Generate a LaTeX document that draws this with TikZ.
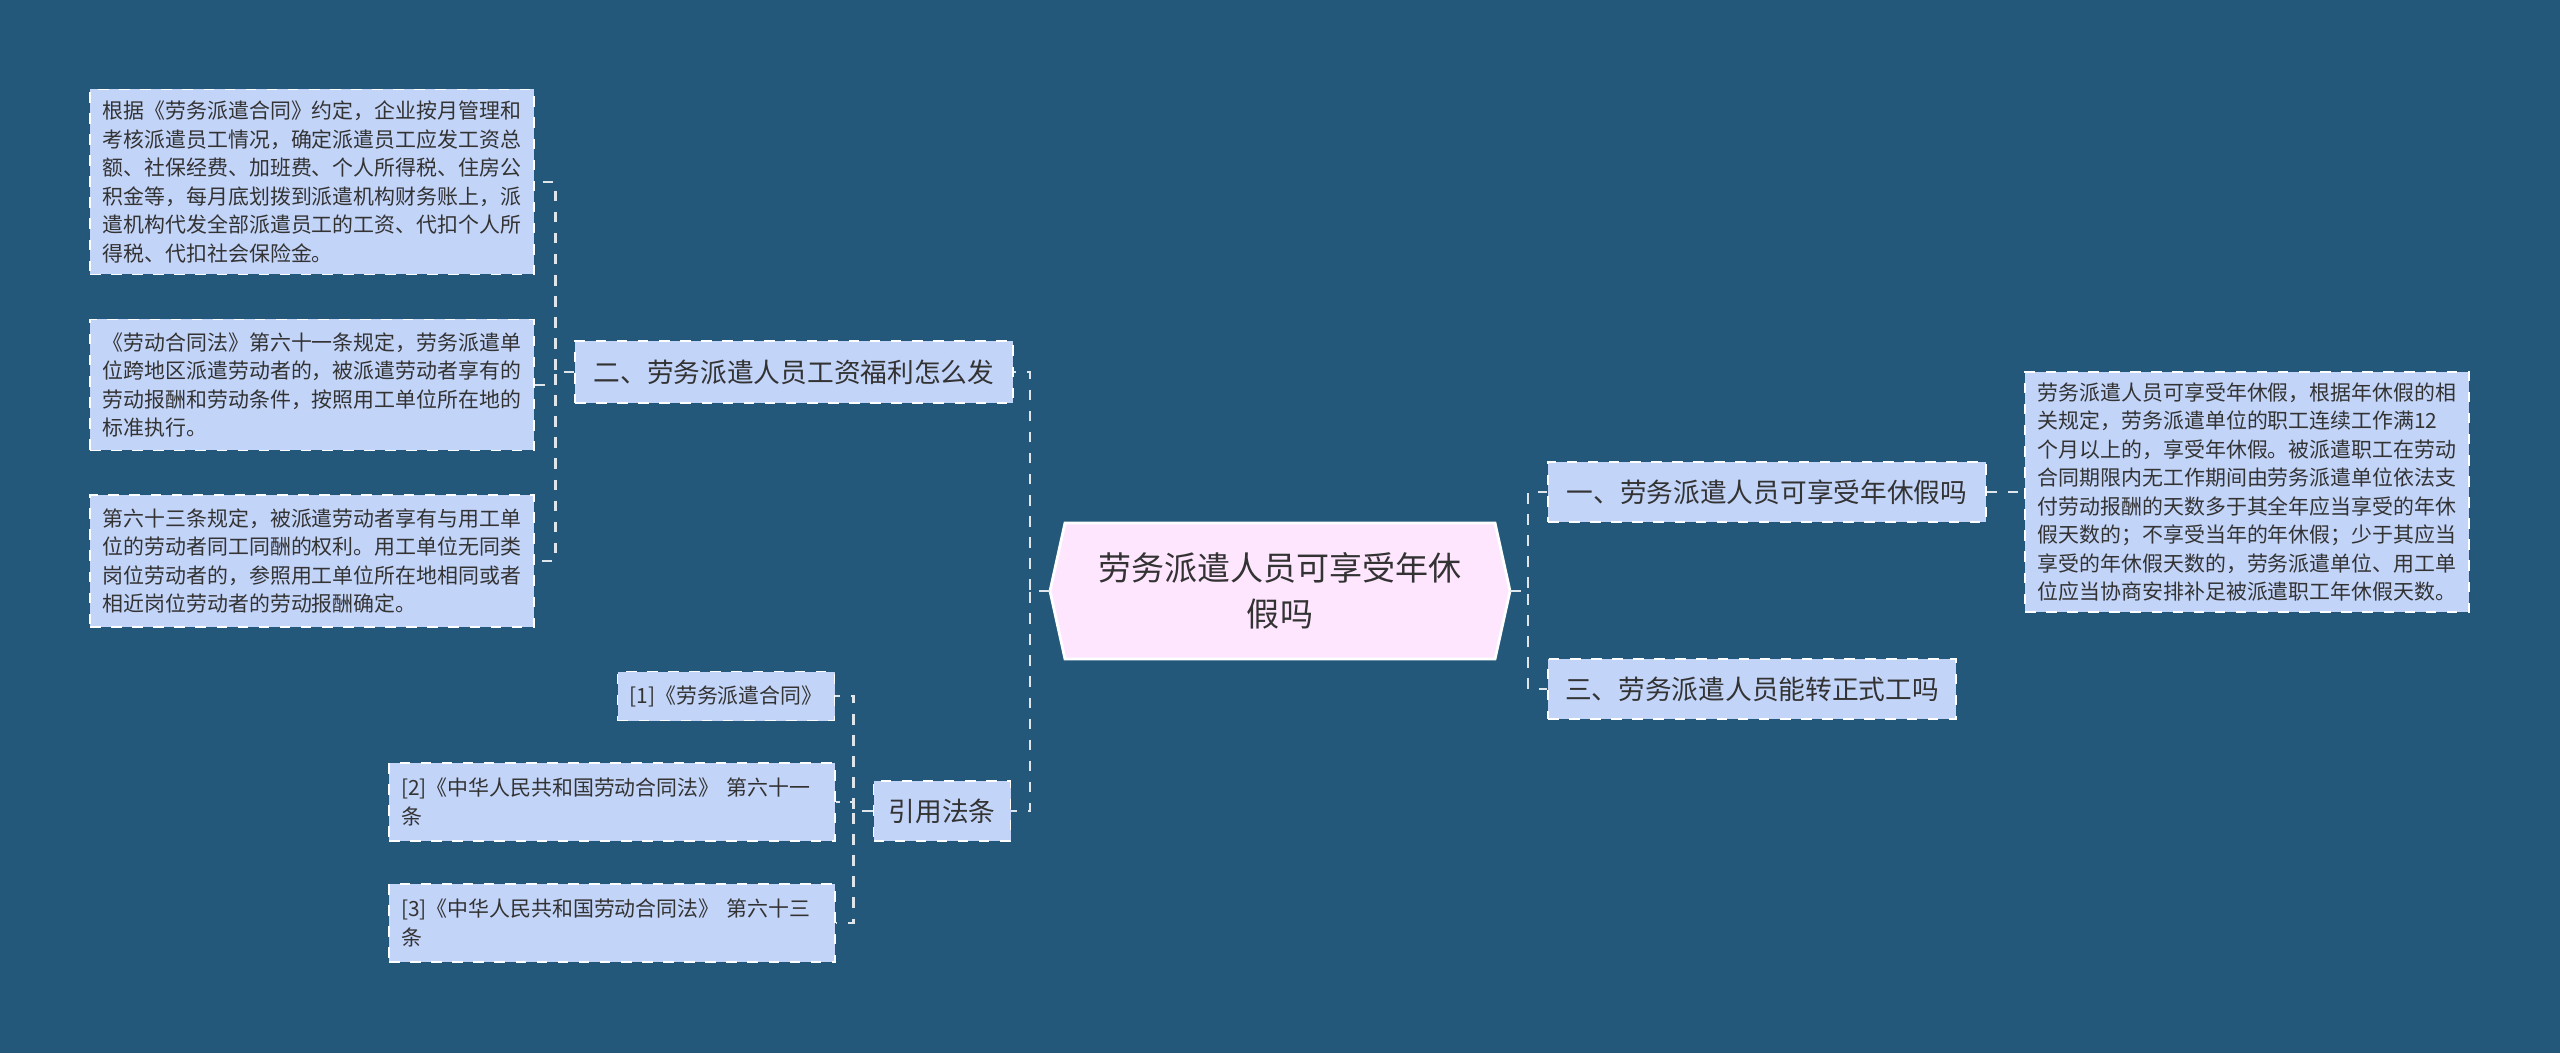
\documentclass[tikz,border=0pt]{standalone}
\usepackage{fontspec}
\setmainfont{Noto Sans CJK SC}
\definecolor{bgblue}{HTML}{23587A}
\definecolor{leafblue}{HTML}{C3D4F9}
\definecolor{rootpink}{HTML}{FFE6FF}
\definecolor{inkgray}{HTML}{333333}
\tikzset{
  leafbox/.style={draw=white,dashed,fill=leafblue,text=inkgray,inner sep=0pt,
    align=left,font=\fontsize{5.95pt}{8.1pt}\selectfont,anchor=center},
  topicbox/.style={draw=white,dashed,fill=leafblue,text=inkgray,inner sep=0pt,
    align=center,font=\fontsize{7.6pt}{9pt}\selectfont,anchor=center},
  link/.style={draw=white!85!bgblue,dashed,line width=0.8pt}
}
\begin{document}
\begin{tikzpicture}
	\fill[bgblue] (0,0) rectangle (25.6,10.53);
	\useasboundingbox (0,0) rectangle (25.6,10.53);
	
	% root
	\fill[rootpink,draw=white,line width=0.8pt] (10.50,4.62)--(10.65,5.30)--(14.95,5.30)
	--(15.10,4.62)--(14.95,3.94)--(10.65,3.94)--cycle;
	\node[text=inkgray,align=center,font=\fontsize{9.4pt}{13pt}\selectfont] (root) at (12.80,4.62){劳务派遣人员可享受年休\\假吗};
	\coordinate (rootw) at (10.50,4.62);
	\coordinate (roote) at (15.10,4.62);
	
	% right side
	\node[topicbox,minimum width=4.38cm,minimum height=0.60cm] (one) at (17.67,5.61){一、劳务派遣人员可享受年休假吗};
	\node[topicbox,minimum width=4.08cm,minimum height=0.60cm] (three) at (17.52,3.64){三、劳务派遣人员能转正式工吗};
	\node[leafbox,minimum width=4.44cm,minimum height=2.40cm] (oneleaf) at (22.47,5.61){劳务派遣人员可享受年休假，根据年休假的相\\关规定，劳务派遣单位的职工连续工作满12\\个月以上的，享受年休假。被派遣职工在劳动\\合同期限内无工作期间由劳务派遣单位依法支\\付劳动报酬的天数多于其全年应当享受的年休\\假天数的；不享受当年的年休假；少于其应当\\享受的年休假天数的，劳务派遣单位、用工单\\位应当协商安排补足被派遣职工年休假天数。};
	
	% left side
	\node[topicbox,minimum width=4.38cm,minimum height=0.62cm] (two) at (7.94,6.81){二、劳务派遣人员工资福利怎么发};
	\node[topicbox,minimum width=1.37cm,minimum height=0.60cm] (cite) at (9.42,2.42){引用法条};
	
	\node[leafbox,minimum width=4.44cm,minimum height=1.85cm] (twoa) at (3.12,8.71){根据《劳务派遣合同》约定，企业按月管理和\\考核派遣员工情况，确定派遣员工应发工资总\\额、社保经费、加班费、个人所得税、住房公\\积金等，每月底划拨到派遣机构财务账上，派\\遣机构代发全部派遣员工的工资、代扣个人所\\得税、代扣社会保险金。};
	\node[leafbox,minimum width=4.44cm,minimum height=1.31cm] (twob) at (3.12,6.68){《劳动合同法》第六十一条规定，劳务派遣单\\位跨地区派遣劳动者的，被派遣劳动者享有的\\劳动报酬和劳动条件，按照用工单位所在地的\\标准执行。};
	\node[leafbox,minimum width=4.44cm,minimum height=1.32cm] (twoc) at (3.12,4.92){第六十三条规定，被派遣劳动者享有与用工单\\位的劳动者同工同酬的权利。用工单位无同类\\岗位劳动者的，参照用工单位所在地相同或者\\相近岗位劳动者的劳动报酬确定。};
	
	\node[leafbox,align=center,minimum width=2.17cm,minimum height=0.49cm] (refa) at (7.26,3.57){[1]《劳务派遣合同》};
	\node[leafbox,text width=4.22cm,inner xsep=0.12cm,minimum height=0.78cm] (refb) at (6.12,2.51){[2]《中华人民共和国劳动合同法》 第六十一\\条};
	\node[leafbox,text width=4.22cm,inner xsep=0.12cm,minimum height=0.78cm] (refc) at (6.12,1.30){[3]《中华人民共和国劳动合同法》 第六十三\\条};
	
	% connectors
	\draw[link] (rootw)--++(-0.20,0)|-(two.east);
	\draw[link] (rootw)--++(-0.20,0)|-(cite.east);
	\draw[link] (roote)--++(0.18,0)|-(one.west);
	\draw[link] (roote)--++(0.18,0)|-(three.west);
	\draw[link] (one.east)--(oneleaf.west);
	\foreach \kid in {twoa,twob,twoc}
		\draw[link] (two.west)--++(-0.19,0)|-(\kid.east);
	\foreach \kid in {refa,refb,refc}
		\draw[link] (cite.west)--++(-0.19,0)|-(\kid.east);
\end{tikzpicture}
\end{document}
